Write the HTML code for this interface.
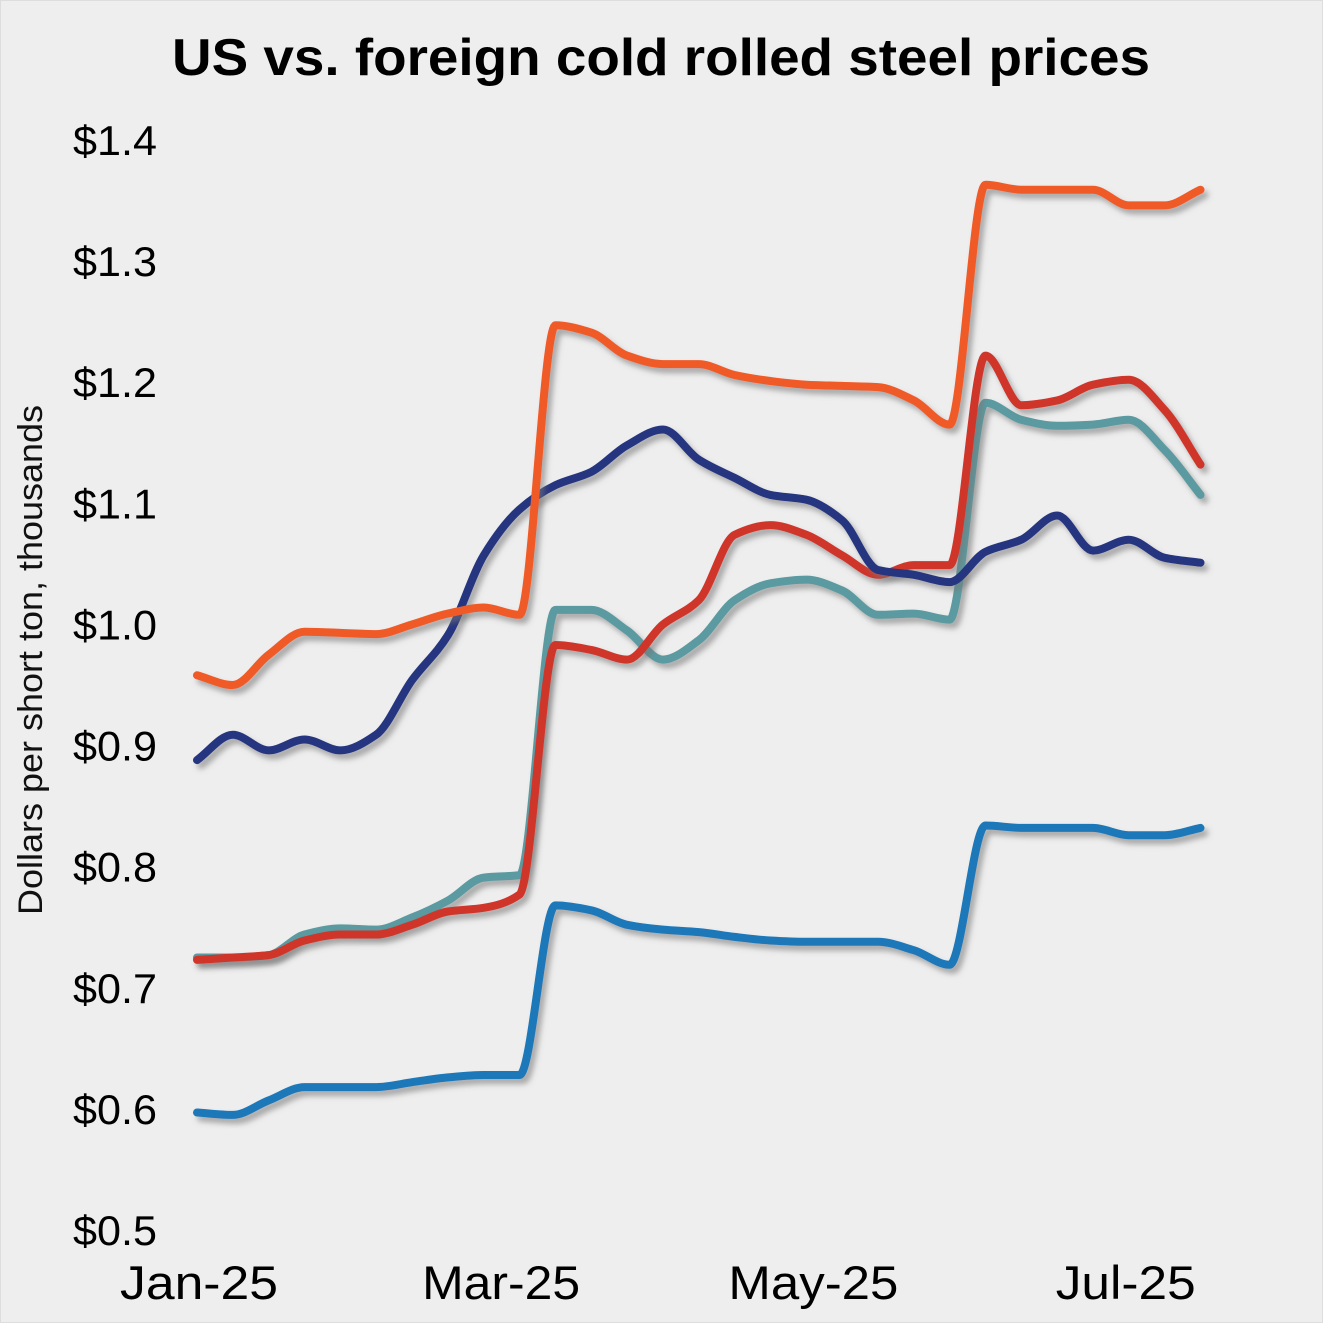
<!DOCTYPE html>
<html><head><meta charset="utf-8">
<style>
html,body{margin:0;padding:0;background:#fff;}
svg{display:block;font-family:"Liberation Sans",Arial,sans-serif;}
</style></head>
<body>
<svg id="chart" width="1323" height="1323" viewBox="0 0 1323 1323" xmlns="http://www.w3.org/2000/svg">
<defs>
<filter id="sh" x="-5%" y="-5%" width="110%" height="110%">
<feDropShadow dx="4" dy="5" stdDeviation="3" flood-color="#777" flood-opacity="0.6"/>
</filter>
</defs>
<rect x="0" y="0" width="1323" height="1323" fill="#eeeeee" stroke="#dddddd" stroke-width="2"/>
<text x="661" y="75" text-anchor="middle" font-size="52" font-weight="bold" fill="#000" textLength="978" lengthAdjust="spacingAndGlyphs">US vs. foreign cold rolled steel prices</text>
<text transform="translate(42,660) rotate(-90)" text-anchor="middle" font-size="34" fill="#111" textLength="510" lengthAdjust="spacingAndGlyphs">Dollars per short ton, thousands</text>
<g id="yticks"></g>
<g id="xticks"></g>
<g id="series"></g>
</svg>
<script>
const weeks = [0,1,2,3,4,5,6,7,8,9,10,11,12,13,14,15,16,17,18,19,20,21,22,23,24,25,26,27,28];
const orangeSeries = [0.958,0.950,0.975,0.994,0.993,0.992,1.000,1.009,1.014,1.008,1.247,1.241,1.222,1.215,1.215,1.206,1.201,1.198,1.197,1.196,1.185,1.165,1.363,1.359,1.359,1.359,1.346,1.346,1.359];
const navySeries = [0.888,0.909,0.896,0.905,0.896,0.909,0.954,0.991,1.057,1.095,1.115,1.126,1.148,1.161,1.136,1.121,1.107,1.103,1.086,1.045,1.041,1.035,1.060,1.070,1.090,1.061,1.070,1.055,1.051];
const redSeries = [0.723,0.725,0.727,0.739,0.744,0.744,0.752,0.763,0.766,0.777,0.983,0.979,0.971,1.000,1.020,1.074,1.082,1.074,1.057,1.041,1.049,1.049,1.222,1.181,1.185,1.198,1.202,1.177,1.132];
const tealSeries = [0.725,0.725,0.727,0.744,0.749,0.748,0.758,0.772,0.791,0.793,1.012,1.012,0.995,0.971,0.987,1.020,1.034,1.037,1.028,1.008,1.009,1.004,1.183,1.169,1.164,1.165,1.169,1.144,1.107];
const blueSeries = [0.597,0.595,0.607,0.618,0.618,0.618,0.622,0.626,0.628,0.628,0.768,0.764,0.752,0.748,0.746,0.742,0.739,0.738,0.738,0.738,0.731,0.719,0.834,0.832,0.832,0.832,0.826,0.826,0.832];
const yTicks = [0.5,0.6,0.7,0.8,0.9,1.0,1.1,1.2,1.3,1.4];
const yTickLabels = ["$0.5","$0.6","$0.7","$0.8","$0.9","$1.0","$1.1","$1.2","$1.3","$1.4"];
const xTickDays = [0,59,120,181];
const xTickLabels = ["Jan-25","Mar-25","May-25","Jul-25"];

const NS = "http://www.w3.org/2000/svg";
const X0 = 197, PX_PER_DAY = 5.12;
function xDay(d){ return X0 + d*PX_PER_DAY; }
function xWeek(w){ return xDay(w*7.0); }
function yVal(v){ return 1230 - (v-0.5)*1211.1; }

const yg = document.getElementById('yticks');
yTicks.forEach((v,i)=>{
  const t = document.createElementNS(NS,'text');
  
  
  t.setAttribute('x',73); t.setAttribute('y',yVal(v)+15);
  t.setAttribute('font-size','42'); t.setAttribute('fill','#000');
  t.setAttribute('textLength','84'); t.setAttribute('lengthAdjust','spacingAndGlyphs');
  t.textContent = yTickLabels[i];
  yg.appendChild(t);
});
const xg = document.getElementById('xticks');
xTickDays.forEach((d,i)=>{
  const t = document.createElementNS(NS,'text');
  
  
  t.setAttribute('x',xDay(d)+2); t.setAttribute('y',1299);
  t.setAttribute('text-anchor','middle');
  t.setAttribute('font-size','47'); t.setAttribute('fill','#000');
  t.setAttribute('textLength', i===3 ? '140' : (i===2 ? '170' : '158'));
  t.setAttribute('lengthAdjust','spacingAndGlyphs');
  t.textContent = xTickLabels[i];
  xg.appendChild(t);
});

function monotonePath(pts){
  const n = pts.length;
  const dx=[], m=[], t=new Array(n);
  for(let i=0;i<n-1;i++){ dx.push(pts[i+1][0]-pts[i][0]); m.push((pts[i+1][1]-pts[i][1])/dx[i]); }
  t[0]=m[0]; t[n-1]=m[n-2];
  for(let i=1;i<n-1;i++){
    if(m[i-1]*m[i]<=0) t[i]=0;
    else { const w1=2*dx[i]+dx[i-1], w2=dx[i]+2*dx[i-1]; t[i]=(w1+w2)/(w1/m[i-1]+w2/m[i]); }
  }
  let d = 'M'+pts[0][0].toFixed(1)+','+pts[0][1].toFixed(1);
  for(let i=0;i<n-1;i++){
    const h=dx[i]/3;
    d += ' C'+(pts[i][0]+h).toFixed(1)+','+(pts[i][1]+t[i]*h).toFixed(1)+' '+
         (pts[i+1][0]-h).toFixed(1)+','+(pts[i+1][1]-t[i+1]*h).toFixed(1)+' '+
         pts[i+1][0].toFixed(1)+','+pts[i+1][1].toFixed(1);
  }
  return d;
}
const sg = document.getElementById('series');
function drawSeries(vals,color,name){
  const pts = weeks.map((w,i)=>[xWeek(w), yVal(vals[i])]);
  const p = document.createElementNS(NS,'path');
  
  
  p.setAttribute('d', monotonePath(pts));
  p.setAttribute('fill','none');
  p.setAttribute('stroke',color);
  p.setAttribute('stroke-width','8');
  p.setAttribute('stroke-linecap','round');
  p.setAttribute('stroke-linejoin','round');
  p.setAttribute('filter','url(#sh)');
  sg.appendChild(p);
}
drawSeries(blueSeries,'#1a78b8','line-blue-series');
drawSeries(tealSeries,'#5a9aa0','line-teal-series');
drawSeries(redSeries,'#d0342c','line-red-series');
drawSeries(navySeries,'#253580','line-navy-series');
drawSeries(orangeSeries,'#f05a28','line-orange-series');
</script>
</body></html>
